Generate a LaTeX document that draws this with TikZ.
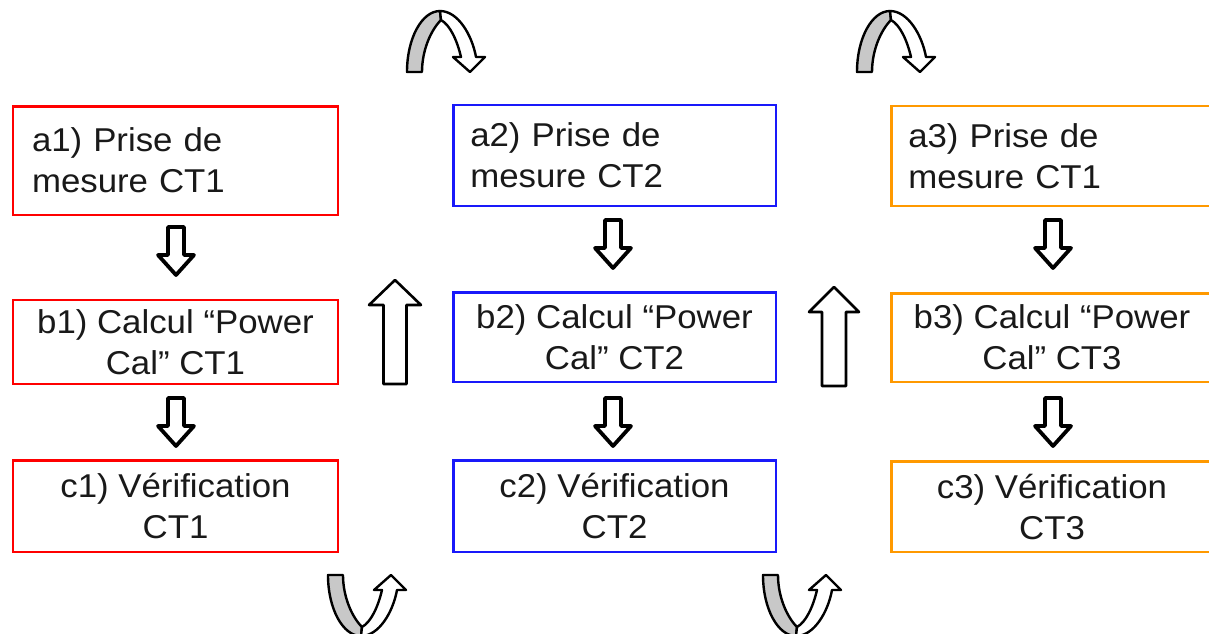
\documentclass[tikz,border=0pt]{standalone}
\usepackage{fontspec}
\setmainfont{Liberation Sans}[FakeStretch=1.055]
\definecolor{cred}{RGB}{255,0,0}
\definecolor{cblue}{RGB}{25,25,250}
\definecolor{corange}{RGB}{255,153,0}
\definecolor{txt}{RGB}{25,25,25}
\definecolor{curgray}{RGB}{200,200,200}
\newcommand\boxfont{\fontsize{33}{41}\selectfont}
\tikzset{
  box/.style={draw, rectangle, line width=2.5pt, inner sep=0pt, font=\boxfont, text=txt},
  redbox/.style={box, draw=cred},
  bluebox/.style={box, draw=cblue},
  orangebox/.style={box, draw=corange},
  blkdown/.style={draw=black, fill=white, line width=3.8pt, line join=round},
  blkup/.style={draw=black, fill=white, line width=2.6pt, line join=round},
  curarrow/.style={draw=black, line width=2.4pt, line join=round},
  pics/dnarrow/.style={code={
    \draw[blkdown] (-8,2) -- (8,2) -- (8,30) -- (18,30) -- (0,50) -- (-18,30) -- (-8,30) -- cycle;
  }},
  pics/uturn/.style={code={
    \draw[curarrow, fill=curgray] (0,0) .. controls (0,-34) and (15,-61) .. (33,-61)
      -- (34,-52) .. controls (24,-42) and (15,-22) .. (15,0) -- cycle;
    \draw[curarrow, fill=white] (33,-61) .. controls (51,-61) and (65,-37) .. (69,-15)
      -- (78,-15) -- (63,0) -- (46,-15) -- (54,-15)
      .. controls (50,-32) and (43,-47) .. (34,-52) -- cycle;
  }}
}
\begin{document}
\begin{tikzpicture}[x=1pt,y=-1pt]
\clip (0,0) rectangle (1209,633);
\fill[white] (0,0) rectangle (1209,633);

% column 1 (red)
\node[redbox, minimum width=325, minimum height=108.5, inner xsep=19, text width=287, align=left] (a1) at (175.5,160.5) {a1) Prise de\\mesure CT1};
\node[redbox, minimum width=325, minimum height=84, align=center] (b1) at (175.5,342) {b1) Calcul “Power\\Cal” CT1};
\node[redbox, minimum width=325, minimum height=91.5, align=center] (c1) at (175.5,506) {c1) Vérification\\CT1};

% column 2 (blue)
\node[bluebox, minimum width=322.5, minimum height=101, inner xsep=17, text width=288.5, align=left] (a2) at (614.5,155.5) {a2) Prise de\\mesure CT2};
\node[bluebox, minimum width=322.5, minimum height=89.5, align=center] (b2) at (614.5,337) {b2) Calcul “Power\\Cal” CT2};
\node[bluebox, minimum width=322.5, minimum height=91.5, align=center] (c2) at (614.5,506) {c2) Vérification\\CT2};

% column 3 (orange)
\node[orangebox, minimum width=321.5, minimum height=100, inner xsep=17, text width=287.5, align=left] (a3) at (1052,156) {a3) Prise de\\mesure CT1};
\node[orangebox, minimum width=321.5, minimum height=88.5, align=center] (b3) at (1052,337.5) {b3) Calcul “Power\\Cal” CT3};
\node[orangebox, minimum width=321.5, minimum height=90.5, align=center] (c3) at (1052,506.5) {c3) Vérification\\CT3};

% down block arrows
\pic at (176,225) {dnarrow};
\pic at (176,396) {dnarrow};
\pic at (613,218) {dnarrow};
\pic at (613,396) {dnarrow};
\pic at (1053,218) {dnarrow};
\pic at (1053,396) {dnarrow};

% up block arrows
\draw[blkup] (395,280) -- (421,305) -- (406.5,305) -- (406.5,384) -- (383.5,384) -- (383.5,305) -- (369,305) -- cycle;
\draw[blkup] (834,287) -- (859,312) -- (846,312) -- (846,386) -- (822,386) -- (822,312) -- (809,312) -- cycle;

% curved u-turn arrows
\pic at (407,72) {uturn};
\pic at (857,72) {uturn};
\pic[yscale=-1] at (328,575) {uturn};
\pic[yscale=-1] at (763,575) {uturn};
\end{tikzpicture}
\end{document}
